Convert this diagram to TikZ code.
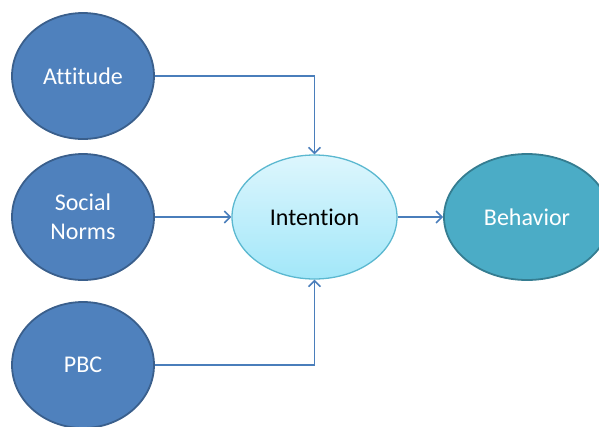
\documentclass[tikz,border=0pt]{standalone}
\usepackage{fontspec}
\setmainfont{Carlito}[Ligatures={NoCommon}]
\usetikzlibrary{arrows.meta,shapes.geometric}
\definecolor{bluefill}{HTML}{4F81BD}
\definecolor{blueline}{HTML}{3A5F8C}
\definecolor{arrowc}{HTML}{4A7EBB}
\definecolor{tealfill}{HTML}{4BACC6}
\definecolor{tealline}{HTML}{357D91}
\definecolor{intop}{HTML}{DDF6FD}
\definecolor{inbot}{HTML}{A2E7F9}
\definecolor{inline}{HTML}{5BB8D0}
\tikzset{
  srcnode/.style={ellipse, draw=blueline, fill=bluefill, line width=1.8pt,
    minimum width=142pt, minimum height=126pt, inner sep=0pt, text=white,
    font=\fontsize{24}{29}\selectfont, align=center},
  intnode/.style={ellipse, draw=inline, top color=intop, bottom color=inbot, line width=1.3pt,
    minimum width=165pt, minimum height=124pt, inner sep=0pt, text=black,
    font=\fontsize{24}{29}\selectfont},
  behnode/.style={ellipse, draw=tealline, fill=tealfill, line width=1.8pt,
    minimum width=166pt, minimum height=126pt, inner sep=0pt, text=white,
    font=\fontsize{24}{29}\selectfont},
  conn/.style={draw=arrowc, line width=1.8pt, -{Straight Barb[length=6pt,width=12pt,line width=1.5pt]}}
}
\begin{document}
\begin{tikzpicture}[x=1pt,y=-1pt]
\useasboundingbox (0,0) rectangle (599,426);
\clip (0,0) rectangle (599,426);
\node[srcnode] (att) at (83,76) {Attitude};
\node[srcnode] (soc) at (83,217) {Social\\Norms};
\node[srcnode] (pbc) at (83,365) {PBC};
\node[intnode] (int) at (314.5,217) {Intention};
\node[behnode] (beh) at (527,217) {Behavior};
\draw[conn] (att.east) -| (int.north);
\draw[conn] (soc.east) -- (int.west);
\draw[conn] (pbc.east) -| (int.south);
\draw[conn] (int.east) -- (beh.west);
\end{tikzpicture}
\end{document}
